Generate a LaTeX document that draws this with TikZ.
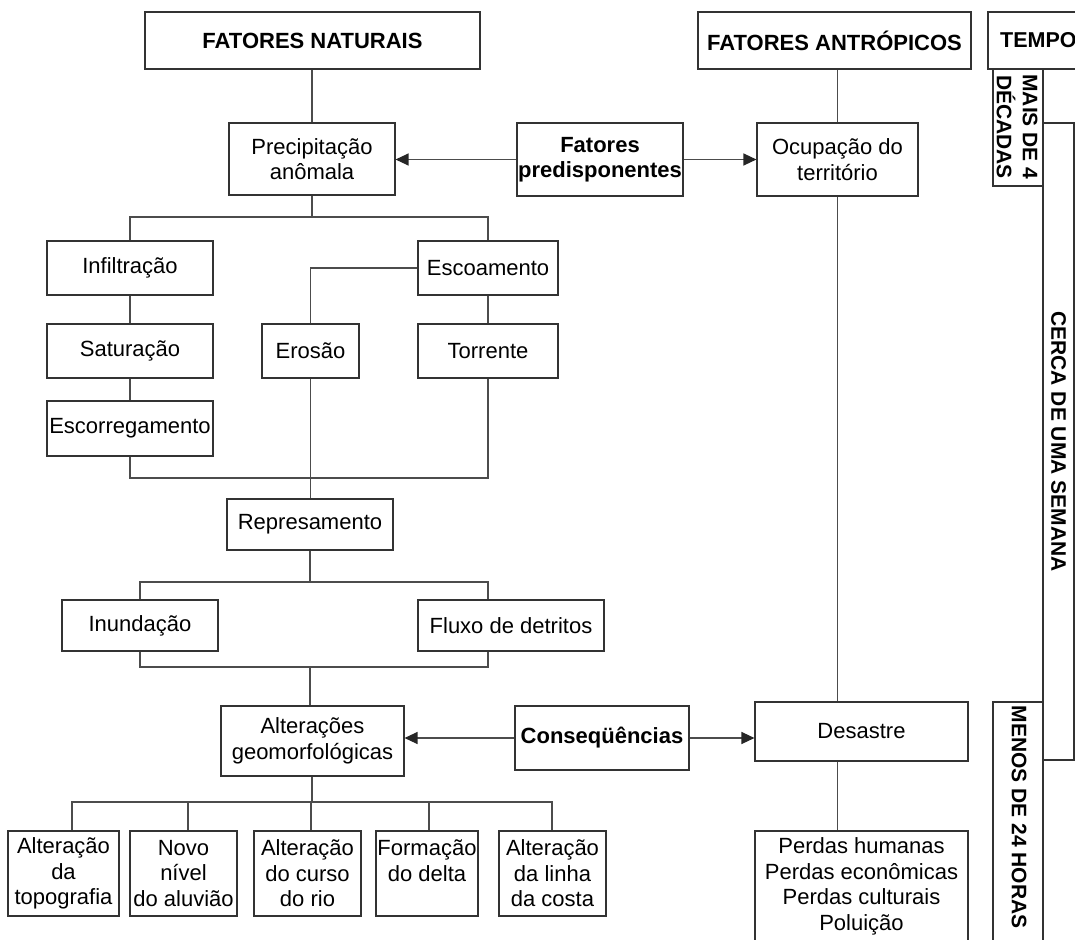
\documentclass[tikz,border=0pt]{standalone}
\usepackage{fontspec}
\setmainfont{Liberation Sans}
\usetikzlibrary{arrows.meta}
\newcommand\mybox[6]{\node[box,minimum width=#4pt,minimum height=#5pt] (#1) at (#2,#3) {#6};}
\begin{document}
\begin{tikzpicture}[x=1pt,y=-1pt,
  every node/.style={font=\fontsize{22pt}{25.5pt}\selectfont, text=black},
  box/.style={draw=black!80, line width=1.1pt, inner sep=0pt, align=center, fill=white},
  conn/.style={draw=black!70, line width=1.2pt},
  arr/.style={conn, -{Triangle[length=13pt,width=12pt,fill=black!85,color=black!85]}},
  vt/.style={rotate=-90, inner sep=0pt, align=center, font=\fontsize{21pt}{26pt}\selectfont\bfseries}
]
\path[use as bounding box] (0,0) rectangle (1075,939);
\clip (0,0) rectangle (1075,939);

% header row
\mybox{fn}{312.5}{40.5}{335}{57}{\bfseries FATORES NATURAIS}
\mybox{fa}{834.5}{40.5}{273}{57}{\bfseries FATORES ANTRÓPICOS}
\mybox{tempo}{1048}{40.5}{120}{57}{}
\node[anchor=west,inner sep=0pt,font=\fontsize{21.5pt}{25pt}\selectfont\bfseries] (tempotxt) at (1000,40.5) {TEMPO};

% time column
\mybox{mais}{1018}{127.5}{50}{117}{}
\node[vt] (maistxt) at (1017,127) {MAIS DE 4\\DÉCADAS};
\mybox{cerca}{1058.5}{441.5}{31}{637}{}
\node[vt] (cercatxt) at (1058.5,441.5) {CERCA DE UMA SEMANA};
\mybox{menos}{1018}{831}{50}{258}{}
\node[vt] (menostxt) at (1019,817) {MENOS DE 24 HORAS};

% main nodes
\mybox{precip}{312}{159}{166}{72}{Precipitação\\anômala}
\mybox{fp}{600}{159.5}{166}{73}{\bfseries Fatores\\\bfseries predisponentes}
\mybox{ocup}{837.5}{159.5}{161}{73}{Ocupação do\\território}
\mybox{infil}{130}{268}{166}{54}{Infiltração}
\mybox{escoam}{488}{268}{140}{54}{Escoamento}
\mybox{satur}{130}{351}{166}{54}{Saturação}
\mybox{erosao}{310.5}{351}{97}{54}{Erosão}
\mybox{torrente}{488}{351}{140}{54}{Torrente}
\mybox{escorr}{130}{428.5}{166}{55}{Escorregamento}
\mybox{repres}{310}{524.5}{166}{51}{Represamento}
\mybox{inund}{140}{625.5}{156}{51}{Inundação}
\mybox{fluxo}{511}{625.5}{186}{51}{Fluxo de detritos}
\mybox{alter}{312.5}{741}{183}{70}{Alterações\\geomorfológicas}
\mybox{conseq}{602}{738}{174}{64}{\bfseries Conseqüências}
\mybox{desastre}{861.5}{731.5}{213}{59}{Desastre}
\mybox{perdas}{861.5}{886.5}{213}{111}{Perdas humanas\\Perdas econômicas\\Perdas culturais\\Poluição}

\mybox{bA}{63.5}{873.5}{111}{85}{Alteração\\da\\topografia}
\mybox{bB}{183.5}{873.5}{107}{85}{Novo\\nível\\do aluvião}
\mybox{bC}{307.5}{873.5}{107}{85}{Alteração\\do curso\\do rio}
\mybox{bD}{427}{873.5}{102}{85}{Formação\\do delta\\\phantom{A}}
\mybox{bE}{552.5}{873.5}{107}{85}{Alteração\\da linha\\da costa}

% branch points
\coordinate (j1) at (312,217);
\coordinate (j2) at (310,478);
\coordinate (j3) at (310,582);
\coordinate (j4) at (310,667);
\coordinate (j5) at (312,802);

% connectors
\draw[conn] (precip.north) -- (precip.north |- fn.south);
\draw[conn] (ocup.north) -- (ocup.north |- fa.south);
\draw[conn] (ocup.south) -- (ocup.south |- desastre.north);
\draw[conn] (desastre.south -| ocup.south) -- (perdas.north -| ocup.south);

\draw[arr] (fp.west) -- (fp.west -| precip.east);
\draw[arr] (fp.east) -- (fp.east -| ocup.west);

\draw[conn] (precip.south) -- (j1);
\draw[conn] (infil.north) |- (escoam.north |- j1) -- (escoam.north);
\draw[conn] (infil) -- (satur);
\draw[conn] (satur) -- (escorr);
\draw[conn] (escoam) -- (torrente);
\draw[conn] (escoam.west) -| (erosao.north);

\draw[conn] (escorr.south) |- (torrente.south |- j2) -- (torrente.south);
\draw[conn] (erosao.south) -- (erosao.south |- repres.north);

\draw[conn] (repres.south) -- (repres.south |- j3);
\draw[conn] (inund.north) |- ([xshift=-23pt]fluxo.north |- j3) -- ([xshift=-23pt]fluxo.north);

\draw[conn] (inund.south) |- ([xshift=-23pt]fluxo.south |- j4) -- ([xshift=-23pt]fluxo.south);
\draw[conn] (j4) -- (j4 |- alter.north);

\draw[arr] (conseq.west) -- (conseq.west -| alter.east);
\draw[arr] (conseq.east) -- (conseq.east -| desastre.west);

\draw[conn] (alter.south -| j5) -- (j5);
\draw[conn] ([xshift=8.5pt]bA.north) |- ([xshift=-0.5pt]bE.north |- j5) -- ([xshift=-0.5pt]bE.north);
\draw[conn] ([xshift=4.5pt]bB.north) -- ([xshift=4.5pt]bB.north |- j5);
\draw[conn] ([xshift=3.5pt]bC.north) -- ([xshift=3.5pt]bC.north |- j5);
\draw[conn] ([xshift=2pt]bD.north) -- ([xshift=2pt]bD.north |- j5);
\end{tikzpicture}
\end{document}
